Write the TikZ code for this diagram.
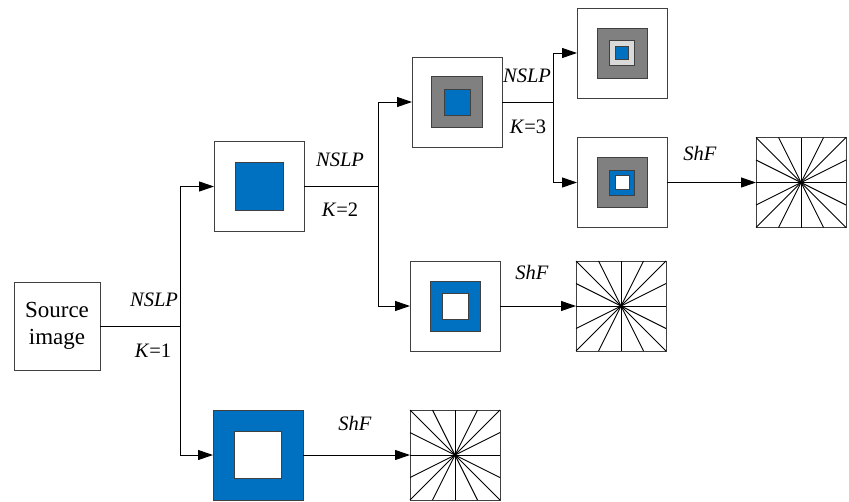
\documentclass[tikz,border=0pt]{standalone}
\usepackage{fontspec}
\setmainfont{Liberation Serif}
\newfontfamily\tnr{Liberation Serif}
\usetikzlibrary{arrows.meta,calc}
\definecolor{nsblue}{RGB}{0,112,192}
\definecolor{nsgray}{RGB}{128,128,128}
\definecolor{nslight}{RGB}{217,217,217}
\tikzset{
  frame/.style={draw=black!75, fill=white, line width=0.9pt, minimum size=90pt,
    inner sep=0pt, outer sep=0pt},
  srcbox/.style={draw=black!75, fill=white, line width=0.9pt, minimum width=86pt,
    minimum height=88pt, align=center, font=\tnr\fontsize{23}{27}\selectfont},
  sq/.style={draw=black!75, line width=0.8pt, minimum size=#1, inner sep=0pt, outer sep=0pt},
  lbl/.style={font=\tnr\fontsize{20.5}{24}\selectfont, inner sep=1pt},
  link/.style={line width=1pt},
  arr/.style={link, -{Triangle[length=15pt,width=10pt]}},
  ray/.style={line width=0.9pt}
}
% star of rays through the quarter points of a square node
\newcommand{\burst}[1]{%
  \foreach \t in {0,0.25,0.5,0.75,1}
    \draw[ray] ($(#1.north west)!\t!(#1.north east)$) -- ($(#1.south east)!\t!(#1.south west)$);
  \foreach \t in {0.25,0.5,0.75}
    \draw[ray] ($(#1.north west)!\t!(#1.south west)$) -- ($(#1.south east)!\t!(#1.north east)$);}

\begin{document}
\begin{tikzpicture}[x=1pt,y=-1pt]
  \useasboundingbox (0,0) rectangle (849,501);

  % source and first split
  \node[srcbox] (src) at (57,326) {Source\\image};
  \coordinate (j1) at (180,326);

  % K=1
  \node[frame] (b1) at (259,186.5) {};
  \node[sq=48pt, fill=nsblue] (b1i) at (b1) {};
  \node[frame, fill=nsblue] (b2) at (258,455) {};
  \node[sq=47pt, fill=white] (b2i) at (b2) {};
  \coordinate (j2) at (378,186.5);

  % K=2
  \node[frame] (c1) at (457,102) {};
  \node[sq=51pt, fill=nsgray] (c1g) at (c1) {};
  \node[sq=26pt, fill=nsblue] (c1b) at (c1) {};
  \node[frame] (c2) at (455,306) {};
  \node[sq=50pt, fill=nsblue] (c2b) at (c2) {};
  \node[sq=26pt, fill=white] (c2w) at (c2) {};
  \coordinate (j3) at (553,102);

  % K=3
  \node[frame] (d1) at (622,53) {};
  \node[sq=50pt, fill=nsgray] (d1g) at (d1) {};
  \node[sq=25pt, fill=nslight] (d1l) at (d1) {};
  \node[sq=13pt, fill=nsblue] (d1b) at (d1) {};
  \node[frame] (d2) at (622,182.5) {};
  \node[sq=50pt, fill=nsgray] (d2g) at (d2) {};
  \node[sq=25pt, fill=nsblue] (d2b) at (d2) {};
  \node[sq=14pt, fill=white] (d2w) at (d2) {};

  % ShF outputs
  \node[frame] (s1) at (801,182.5) {};
  \node[frame] (s2) at (621,306) {};
  \node[frame] (s3) at (455,455) {};
  \burst{s1}
  \burst{s2}
  \burst{s3}

  % connectors
  \draw[link] (src) -- (j1);
  \draw[arr] (j1) |- (b1);
  \draw[arr] (j1) |- (b2);
  \draw[link] (b1) -- (j2);
  \draw[arr] (j2) |- (c1);
  \draw[arr] (j2) |- (c2);
  \draw[link] (c1) -- (j3);
  \draw[arr] (j3) |- (d1);
  \draw[arr] (j3) |- (d2);
  \draw[arr] (d2) -- (s1);
  \draw[arr] (c2) -- (s2);
  \draw[arr] (b2) -- (s3);

  % labels
  \node[lbl] (n1) at (154,300) {\textit{NSLP}};
  \node[lbl] (k1) at (153,351) {\textit{K}=1};
  \node[lbl] (n2) at (340,160) {\textit{NSLP}};
  \node[lbl] (k2) at (340,210) {\textit{K}=2};
  \node[lbl] (n3) at (527,76) {\textit{NSLP}};
  \node[lbl] (k3) at (528,127) {\textit{K}=3};
  \node[lbl] (f1) at (700,153) {\textit{ShF}};
  \node[lbl] (f2) at (532,272) {\textit{ShF}};
  \node[lbl] (f3) at (355,423) {\textit{ShF}};
\end{tikzpicture}
\end{document}
